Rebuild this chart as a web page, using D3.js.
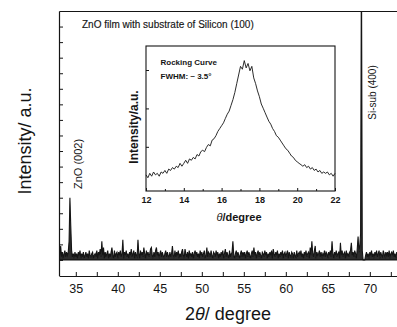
<!DOCTYPE html>
<html><head><meta charset="utf-8">
<script src="https://cdn.jsdelivr.net/npm/d3@7"></script>
<style>
body{margin:0;background:#fff}
svg{display:block;font-family:"Liberation Sans",Arial,sans-serif}
</style>
</head><body><svg id="c" width="397" height="327"></svg>
<script>
// ---- main XRD scan (2θ from 33.0, step 0.1) ----
const xrdStart = 33.0, xrdStep = 0.1;
const xrdIntensity = [
 7,3,9,2,5,1,4,6,2,5,
 3,5,12,40,22,6,2,4,1,5,
 2,4,1,5,3,6,1,4,2,5,
 1,3,5,2,4,1,6,3,2,4,
 5,1,3,4,2,6,1,5,3,7,
 2,12,3,8,1,5,2,4,6,1,
 4,2,5,8,3,1,6,2,4,5,
 1,5,3,6,2,4,13,1,5,3,
 6,2,4,1,5,3,7,2,4,6,
 1,5,3,2,13,4,1,6,3,5,
 2,8,4,1,6,3,5,2,4,7,
 8,3,1,5,2,6,8,3,5,1,
 4,6,2,5,3,1,4,6,2,5,
 3,1,5,2,4,9,3,1,6,2,
 5,3,6,1,4,2,5,7,3,1,
 7,4,2,5,1,6,3,4,2,5,
 1,4,6,3,5,2,4,1,6,3,
 5,2,4,6,1,3,8,2,5,4,
 2,6,3,1,5,4,2,6,3,5,
 1,4,2,5,3,6,1,4,7,2,
 5,3,1,6,2,4,5,12,3,1,
 4,6,2,5,3,1,4,6,2,5,
 3,5,1,4,6,2,5,3,1,4,
 6,2,8,3,5,1,4,6,2,5,
 3,1,5,4,2,6,3,5,1,4,
 2,5,3,6,1,7,4,2,5,3,
 6,1,4,2,5,3,6,1,4,5,
 2,4,6,1,5,3,2,5,4,1,
 5,3,1,6,2,4,5,3,6,2,
 4,1,5,3,6,2,4,5,1,8,
 3,12,4,2,6,9,1,5,3,4,
 6,2,5,1,4,3,6,2,5,4,
 1,5,3,6,2,12,4,1,5,3,
 6,2,4,5,1,11,3,6,2,4,
 5,1,6,3,4,2,5,6,11,3,
 5,2,6,4,1,7,15,5,9,17,
 200,6,0,0,0,3,5,2,4,1,
 5,3,6,2,4,1,5,3,6,2,
 4,6,1,5,3,2,6,4,1,5,
 3,5,2,6,1,4,5,3,6,2,
 4,1,5,3,6
];
const xTickValues = [35,40,45,50,55,60,65,70];
const xMinorTickValues = [35,37.5,40,42.5,45,47.5,50,52.5,55,57.5,60,62.5,65,67.5,70,72.5];
const yTickValues = [0,10,20,30,40,50,60,70,80,90,100,110,120,130,140,150];
const peakLabelText = ["ZnO (002)", "Si-sub (400)"];

// ---- inset rocking curve (θ from 12.0, step 0.1) ----
const rcStart = 12.0, rcStep = 0.1;
const rcIntensity = [
 5.4,3.9,6.2,4.7,6.9,5.4,6.2,4.7,6.9,6.2,
 7.7,6.2,8.4,7.7,9.2,8.4,9.9,9.2,11.4,9.9,
 11.4,13.0,11.4,13.7,13.0,14.5,13.7,16.0,15.2,17.5,
 18.2,17.5,19.7,21.2,20.5,23.5,24.2,25.8,28.0,29.5,
 31.0,32.5,34.8,37.0,38.6,41.6,44.6,48.3,52.9,57.4,
 61.9,60.4,64.9,61.1,63.4,59.6,61.9,55.9,52.9,49.1,
 46.1,42.3,40.1,37.8,35.5,33.3,31.8,29.5,28.0,25.8,
 25.0,23.5,22.0,20.5,19.0,18.2,16.7,15.2,14.5,13.0,
 12.2,11.4,10.7,9.9,10.7,9.2,9.9,8.4,9.2,7.7,
 8.4,6.9,7.7,6.2,6.9,6.2,6.9,5.4,6.2,4.7,6.2
];
const rcTickValues = [12,14,16,18,20,22];
const rcMinorTickValues = [13,15,17,19,21];
const rcYTickValues = [20,40,60];

const ink = "#151515";
const svg = d3.select("#c");

// scales
const x = d3.scaleLinear().domain([33, 73.4]).range([59, 398.4]);
const y = d3.scaleLinear().domain([-10, 160]).range([275.5, 11]);

svg.append("defs").append("clipPath").attr("id","clipMain")
  .append("rect").attr("x",59).attr("y",11).attr("width",340).attr("height",265);

// main data: filled band + line
const xrdArea = d3.area()
  .x((d,i)=>x(xrdStart + i*xrdStep))
  .y0(y(0))
  .y1(d=>y(d));
svg.append("path").datum(xrdIntensity)
  .attr("clip-path","url(#clipMain)")
  .attr("d", xrdArea).attr("fill",ink).attr("opacity",0.9);
const xrdLine = d3.line()
  .x((d,i)=>x(xrdStart + i*xrdStep))
  .y(d=>y(d));
svg.append("path").datum(xrdIntensity)
  .attr("clip-path","url(#clipMain)")
  .attr("d", xrdLine).attr("fill","none").attr("stroke",ink).attr("stroke-width",1.1);

// baseline
svg.append("line").attr("x1",x(33)).attr("x2",x(73.4)).attr("y1",y(0)).attr("y2",y(0))
  .attr("stroke",ink).attr("stroke-width",1.2);

function styleAxis(g){
  g.selectAll("path,line").attr("stroke",ink);
  g.selectAll("text").attr("fill",ink);
}

// bottom axis
svg.append("g").attr("transform","translate(0,276)")
  .call(d3.axisBottom(x).tickValues(xMinorTickValues).tickSize(-4).tickSizeOuter(0).tickFormat(""))
  .call(styleAxis).call(g=>g.select(".domain").attr("stroke-width",1.2));
svg.append("g").attr("transform","translate(0,276)")
  .call(d3.axisBottom(x).tickValues(xTickValues).tickSize(0).tickSizeOuter(0).tickPadding(8.4).tickFormat(d3.format("d")))
  .call(g=>g.select(".domain").remove())
  .call(g=>g.selectAll("text").attr("font-size",12.5).attr("font-family","Liberation Sans, Arial"))
  .call(styleAxis);

// left axis
svg.append("g").attr("transform","translate(59,0)")
  .call(d3.axisLeft(y).tickValues(yTickValues).tickSize(-4).tickSizeOuter(0).tickFormat(""))
  .call(styleAxis).call(g=>g.select(".domain").attr("stroke-width",1.2));

// top line
svg.append("g").attr("transform","translate(0,11)")
  .call(d3.axisTop(x).tickValues([]).tickSizeOuter(0))
  .call(styleAxis).call(g=>g.select(".domain").attr("stroke-width",1.2));

// axis titles
svg.append("text").attr("x",228).attr("y",320).attr("text-anchor","middle")
  .attr("font-size",18).attr("fill",ink)
  .call(t=>{t.append("tspan").text("2");t.append("tspan").attr("font-style","italic").text("θ");t.append("tspan").text("/ degree");});
svg.append("text").attr("transform","translate(31,141) rotate(-90)").attr("text-anchor","middle")
  .attr("font-size",18).attr("fill",ink).text("Intensity/ a.u.");

// title
svg.append("text").attr("x",82).attr("y",27.5).attr("font-size",10).attr("fill",ink)
  .attr("stroke",ink).attr("stroke-width",0.15)
  .text("ZnO film with substrate of Silicon (100)");

// peak labels
svg.append("text").attr("transform","translate(82,164) rotate(-90)").attr("text-anchor","middle")
  .attr("font-size",11).attr("fill",ink).text(peakLabelText[0]);
svg.append("text").attr("transform","translate(376,92.5) rotate(-90)").attr("text-anchor","middle")
  .attr("font-size",10).attr("fill",ink).text(peakLabelText[1]);

// ---- inset ----
const ix = d3.scaleLinear().domain([12,22]).range([146,335]);
const iy = d3.scaleLinear().domain([-3,72.5]).range([191,46]);
const inset = svg.append("g");
inset.append("rect").attr("x",146).attr("y",46).attr("width",189).attr("height",145)
  .attr("fill","#fff").attr("stroke",ink).attr("stroke-width",1.1);

const rcLine = d3.line()
  .x((d,i)=>ix(rcStart + i*rcStep))
  .y(d=>iy(d));
inset.append("path").datum(rcIntensity).attr("d",rcLine)
  .attr("fill","none").attr("stroke",ink).attr("stroke-width",0.9);

inset.append("g").attr("transform","translate(0,191)")
  .call(d3.axisBottom(ix).tickValues(rcMinorTickValues).tickSize(-2).tickSizeOuter(0).tickFormat(""))
  .call(g=>g.select(".domain").remove()).call(styleAxis);
inset.append("g").attr("transform","translate(0,191)")
  .call(d3.axisBottom(ix).tickValues(rcTickValues).tickSize(-3).tickSizeOuter(0).tickPadding(5.6).tickFormat(d3.format("d")))
  .call(g=>g.select(".domain").remove())
  .call(g=>g.selectAll("text").attr("font-size",9).attr("font-weight","bold").attr("font-family","Liberation Sans, Arial"))
  .call(styleAxis);
inset.append("g").attr("transform","translate(146,0)")
  .call(d3.axisLeft(iy).tickValues(rcYTickValues).tickSize(-3).tickSizeOuter(0).tickFormat(""))
  .call(g=>g.select(".domain").remove()).call(styleAxis);

inset.append("text").attr("x",160.5).attr("y",65).attr("font-size",8).attr("font-weight","bold")
  .attr("fill",ink).text("Rocking Curve");
inset.append("text").attr("x",160.5).attr("y",79).attr("font-size",8).attr("font-weight","bold")
  .attr("fill",ink).text("FWHM: ~ 3.5°");

svg.append("text").attr("x",239).attr("y",221).attr("text-anchor","middle")
  .attr("font-size",11).attr("font-weight","bold").attr("fill",ink)
  .call(t=>{t.append("tspan").attr("font-style","italic").attr("font-weight","normal").text("θ");t.append("tspan").text("/degree");});
svg.append("text").attr("transform","translate(138,127) rotate(-90)").attr("text-anchor","middle")
  .attr("font-size",12).attr("font-weight","bold").attr("fill",ink).text("Intensity/a.u.");
</script>
</body></html>
